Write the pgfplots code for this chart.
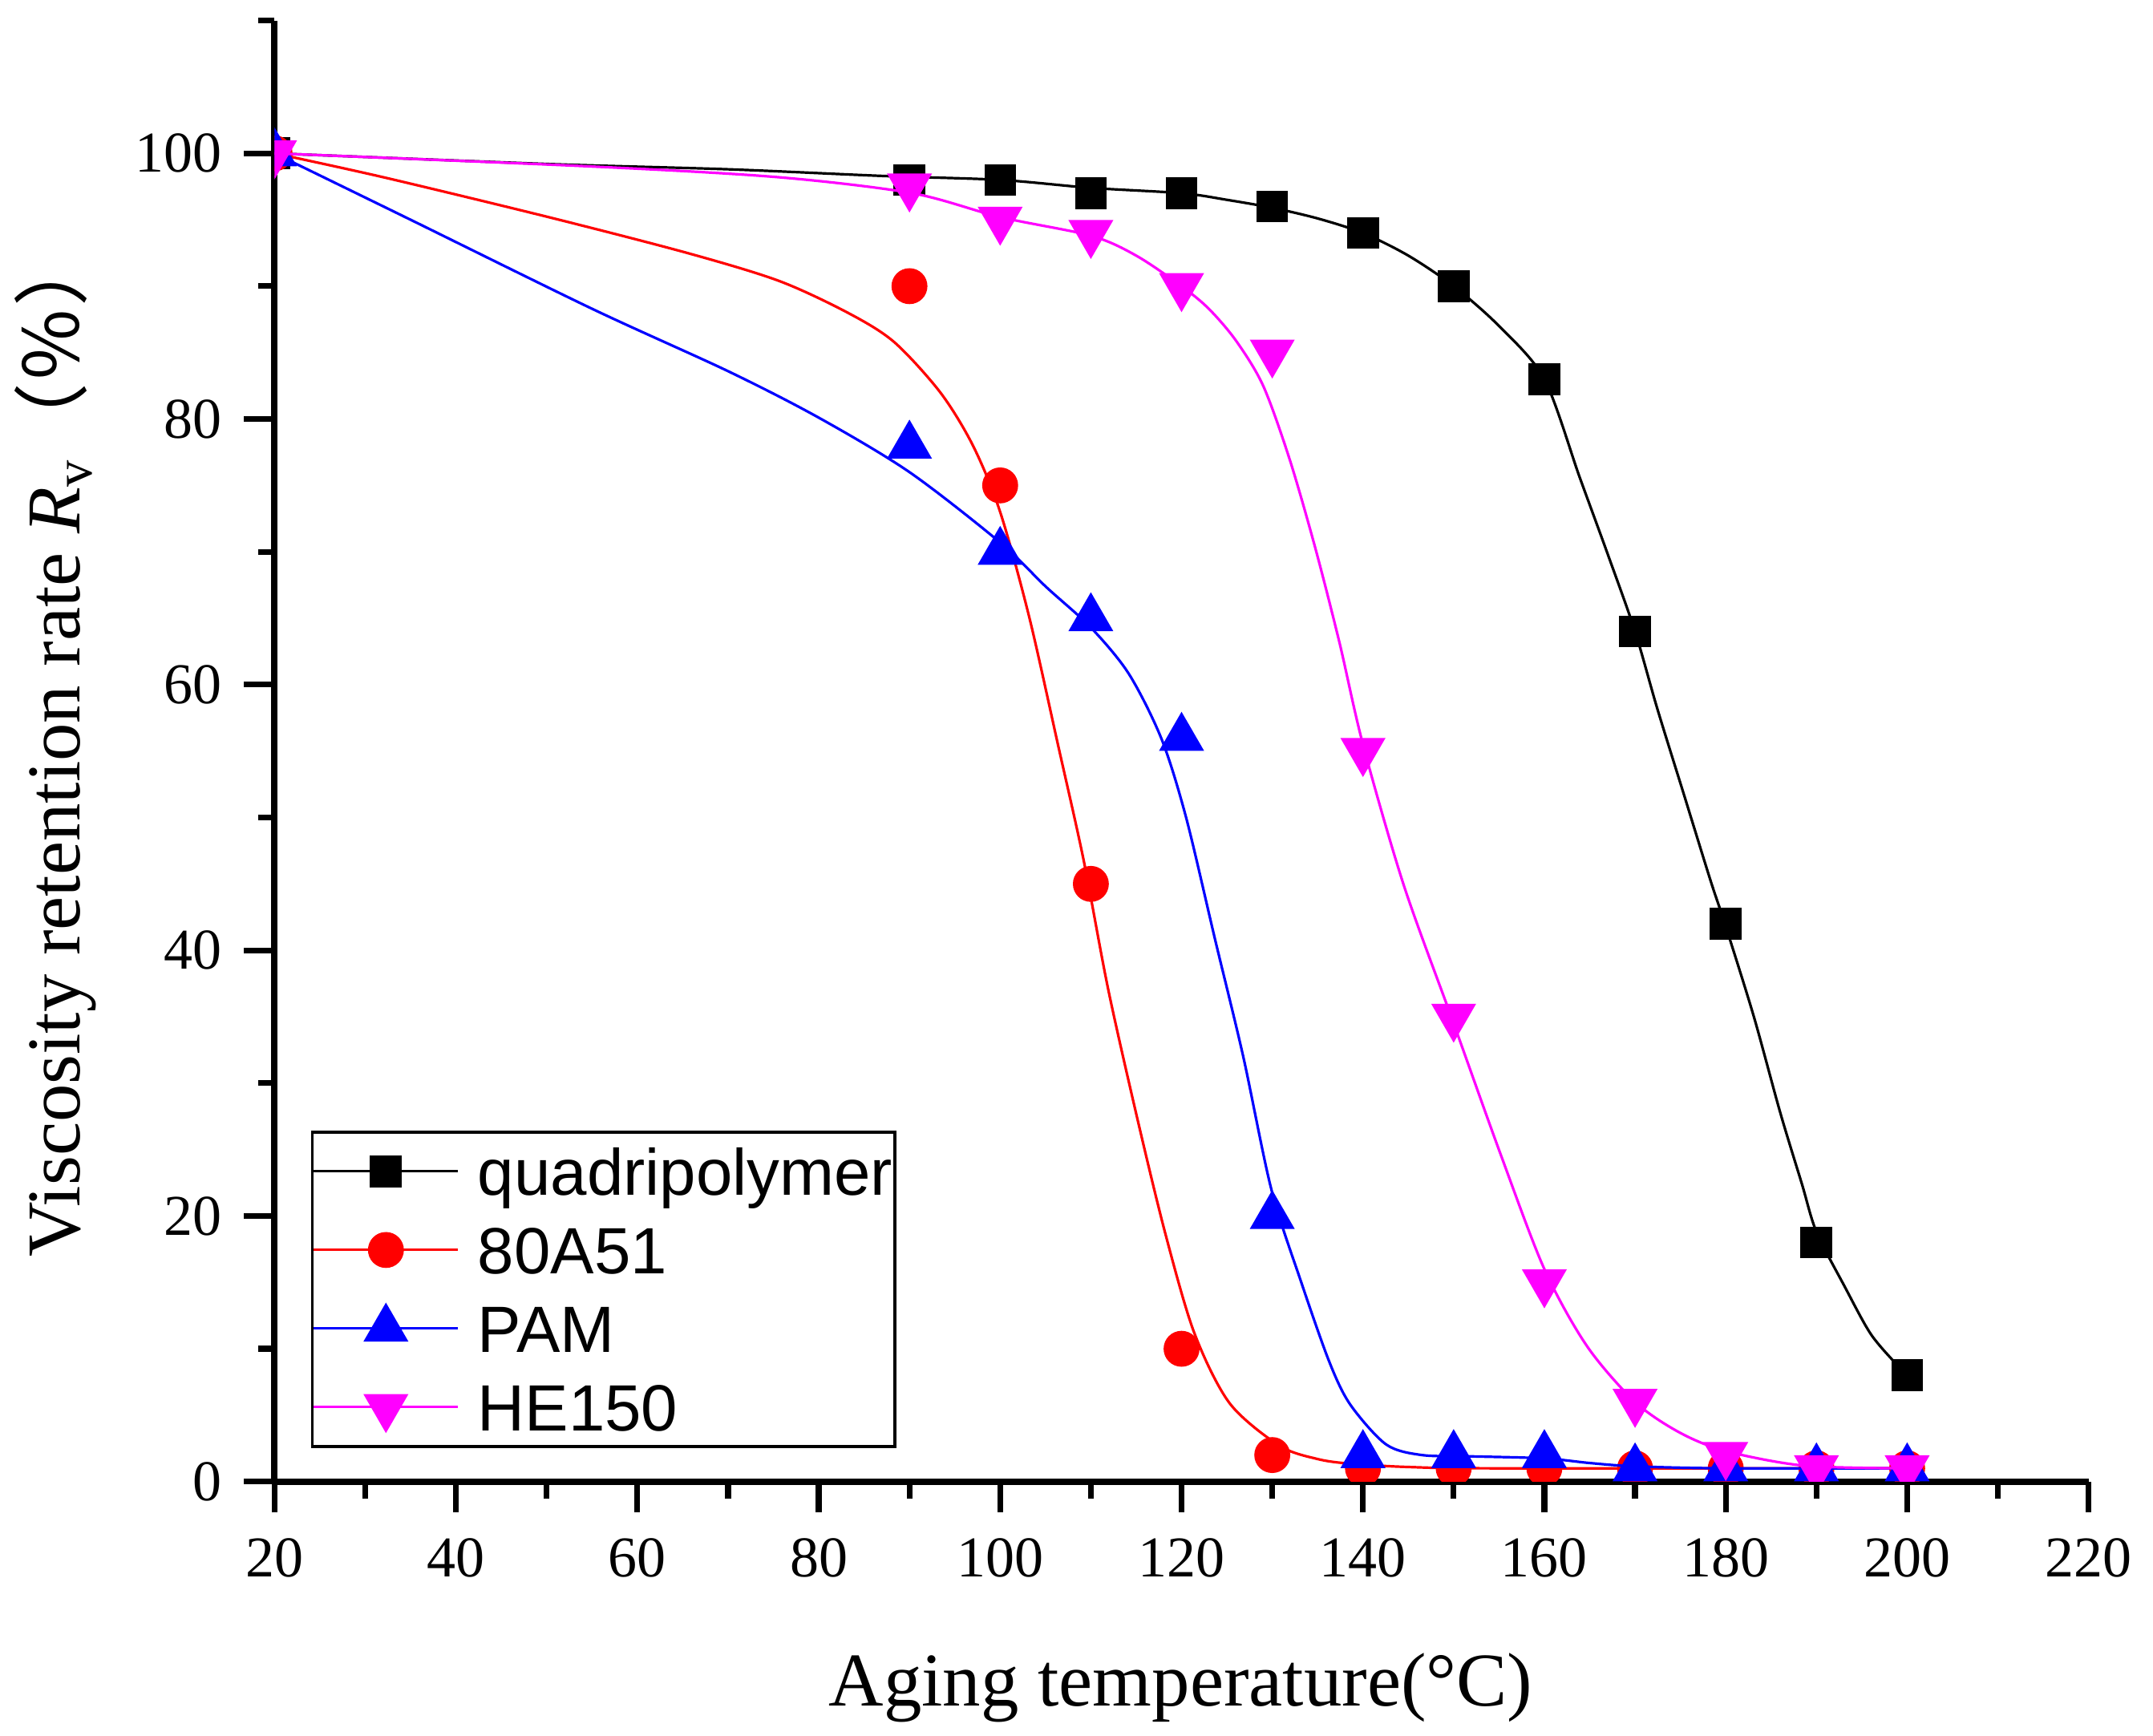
\documentclass[border=0pt]{standalone}
\usepackage{fontspec}
\setmainfont{Liberation Serif}
\newfontfamily\arial{Liberation Sans}
\newfontfamily\cjk{Noto Sans CJK SC}
\usepackage{pgfplots}
\pgfplotsset{compat=1.18}
\definecolor{cBlack}{RGB}{0,0,0}
\definecolor{cRed}{RGB}{255,0,0}
\definecolor{cBlue}{RGB}{0,0,255}
\definecolor{cMag}{RGB}{255,0,255}

\begin{document}
\begin{tikzpicture}
\begin{axis}[
  scale only axis, width=565.5pt, height=455.5pt,
  xmin=20, xmax=220, ymin=0, ymax=110,
  axis lines=left, axis line style={line width=2pt, -},
  xtick={20,40,...,220}, minor xtick={30,50,...,210},
  ytick={0,20,...,100}, minor ytick={10,30,...,110},
  tick align=outside, major tick length=9.6pt, minor tick length=5.2pt,
  every tick/.style={line width=1.8pt, black},
  tick label style={font=\fontsize{18}{18}\selectfont, inner sep=0pt},
  /pgf/number format/assume math mode=true,
  xticklabel style={anchor=north}, yticklabel style={anchor=east},
  xticklabel shift=7.8pt, yticklabel shift=6.7pt,
  xlabel={Aging temperature(°C)},
  ylabel={Viscosity retention rate \textit{R}\textsubscript{v}\cjk{（％）}},
  xlabel style={at={(axis description cs:0.4996,-0.1538)}, anchor=base, font=\fontsize{23.7}{28}\selectfont, inner sep=0pt},
  ylabel style={at={(axis description cs:-0.1072,0.1531)}, rotate=0, anchor=base west, font=\fontsize{23.7}{28}\selectfont, inner sep=0pt},
  clip marker paths=true,
  legend cell align=left,
  legend style={at={(rel axis cs:0.0201,0.2402)}, anchor=north west, draw=black, line width=0.9pt, fill=white,
    inner xsep=0pt, inner ysep=0pt, column sep=5pt, row sep=0pt,
    font=\arial\fontsize{20.4}{24}\selectfont,
    nodes={inner xsep=0.75pt, inner ysep=0pt, text height=19.55pt, text depth=4.95pt}},
  legend image code/.code={\draw[mark repeat=2,mark phase=2] plot coordinates {(0pt,0pt) (22.5pt,0pt) (45pt,0pt)};},
]
% quadripolymer
\addplot[cBlack, line width=0.8pt, smooth, forget plot] coordinates {
(20,100) (50,99.2) (70,98.8) (87,98.3) (100,98.0) (110,97.4) (120,97.0) (125,96.5) (130,95.9) (135,95.1) (140,94.0) (145,92.3) (150,90.0) (155,87.0) (160,83.0) (163.9,75.6) (167,69.8) (170,64.0) (172.45,58.2) (175.4,51.7) (178.3,45.3) (180,41.8) (183.1,35.0) (186,27.8) (188.4,22.4) (190,18.8) (193.1,14.7) (196,11.1) (199,8.7) (200,8.0)};
\addplot[cBlack, only marks, mark=square*, mark size=4.7pt, mark options={solid, line width=0.5pt}, forget plot] coordinates {
(20,100) (90,98) (100,98) (110,97) (120,97) (130,96) (140,94) (150,90) (160,83) (170,64) (180,42) (190,18) (200,8)};
% 80A51
\addplot[cRed, line width=0.8pt, smooth, forget plot] coordinates {
(20,100) (32,98.2) (50.2,95.2) (65.5,92.5) (75.6,90.4) (83.2,88.0) (88.3,85.8) (93.4,82.0) (97,78.0) (100,73.0) (103.2,65.1) (106.4,55.4) (109.2,46.8) (111.9,37.1) (115.1,27.4) (118.2,18.7) (121.4,11.2) (125.3,5.9) (130.8,2.7) (135,1.7) (138.6,1.35) (145,1.1) (155,1.0) (200,1.0)};
\addplot[cRed, only marks, mark=*, mark size=5.35pt, mark options={solid, line width=0.5pt}, forget plot] coordinates {
(20,100) (90,90) (100,75) (110,45) (120,10) (130,2) (140,1) (150,1) (160,1) (170,1) (180,1) (190,1) (200,1)};
% PAM
\addplot[cBlue, line width=0.8pt, smooth, forget plot] coordinates {
(20,100) (35,95.0) (55,88.3) (70,83.6) (80,80.1) (90,76.0) (100,70.7) (105,67.4) (110,64.3) (114.2,60.8) (117.8,55.9) (120.5,50.0) (123.7,40.8) (126.8,32.0) (129.9,22.0) (133.2,15.0) (136.3,9.0) (138.6,5.8) (142.55,2.8) (146.5,2.0) (152,1.9) (160,1.75) (165,1.4) (170,1.15) (180,1.0) (200,1.0)};
\addplot[cBlue, only marks, mark=triangle*, mark size=7.6pt, mark options={solid, line width=0.5pt}, forget plot] coordinates {
(20,100) (90,78) (100,70) (110,65) (120,56) (130,20) (140,2) (150,2) (160,2) (170,1) (180,1) (190,1) (200,1)};
% HE150
\addplot[cMag, line width=0.8pt, smooth, forget plot] coordinates {
(20,100) (55.3,99.0) (75.6,98.2) (90.3,97.0) (100,95.2) (110,93.8) (115,92.3) (120,90.0) (123,88.3) (126,85.9) (129,82.5) (131.9,77.0) (134.7,70.4) (137.4,63.2) (140,55.5) (144.5,44.9) (150,34.5) (155.2,24.6) (160,16.0) (164.7,10.2) (170,6.0) (174.9,3.7) (180,2.3) (188.65,1.2) (200,1.0)};
\addplot[cMag, only marks, mark=triangle*, mark size=7.6pt, mark options={solid, rotate=180, line width=0.5pt}, forget plot] coordinates {
(20,100) (90,97.5) (100,95) (110,94) (120,90) (130,85) (140,55) (150,35) (160,15) (170,6) (180,2) (190,1) (200,1)};

\addlegendimage{cBlack, line width=0.8pt, mark=square*, mark size=4.7pt, mark options={solid, line width=0.5pt}}
\addlegendentry{quadripolymer}
\addlegendimage{cRed, line width=0.8pt, mark=*, mark size=5.35pt, mark options={solid, line width=0.5pt}}
\addlegendentry{80A51}
\addlegendimage{cBlue, line width=0.8pt, mark=triangle*, mark size=7.6pt, mark options={solid, line width=0.5pt}}
\addlegendentry{PAM}
\addlegendimage{cMag, line width=0.8pt, mark=triangle*, mark size=7.6pt, mark options={solid, rotate=180, line width=0.5pt}}
\addlegendentry{HE150}

\coordinate (ll) at (rel axis cs:0,0);
\coordinate (ur) at (rel axis cs:1,1);
\end{axis}
\pgfresetboundingbox
\path[use as bounding box] ([shift={(-85.6pt,-79.1pt)}]ll) rectangle ([shift={(20.1pt,6.4pt)}]ur);
\end{tikzpicture}
\end{document}
